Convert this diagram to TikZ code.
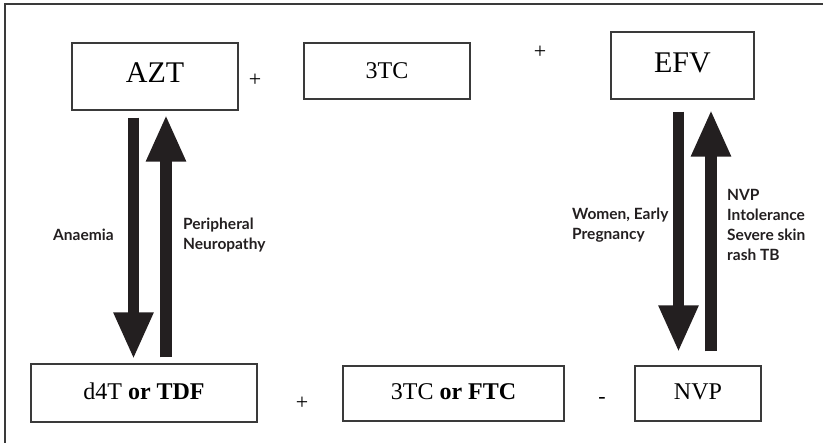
\documentclass[tikz,border=0pt]{standalone}
\usepackage{fontspec}
\setmainfont{Liberation Serif}
\setsansfont{Lato}
\usetikzlibrary{arrows.meta}
\definecolor{ink}{HTML}{231F20}
\definecolor{frameline}{HTML}{3A3A3A}
\tikzset{
  drug/.style={draw=frameline, line width=1.4pt, inner sep=0pt, anchor=center},
  bigdrug/.style={drug, font=\fontsize{30}{32}\selectfont},
  smalldrug/.style={drug, font=\fontsize{24}{26}\selectfont},
  sign/.style={font=\fontsize{22}{24}\selectfont, inner sep=0pt},
  reason/.style={font=\sffamily\bfseries\fontsize{15.5}{20}\selectfont, align=left, anchor=west, inner sep=0pt, text=ink},
  switcharrow/.style={draw=ink, line width=11.5pt, -{Triangle[width=37pt,length=47pt]}, ink},
}
\begin{document}
\begin{tikzpicture}[x=1pt, y=-1pt]
  \useasboundingbox (0,0) rectangle (823,443);
  % outer frame (top and left edges)
  \draw[frameline, line width=1.5pt] (5,443) -- (5,4) -- (823,4);

  % first-line regimen
  \node[bigdrug, minimum width=166pt, minimum height=67pt] (azt) at (155,76.5) {\raisebox{7pt}{AZT}};
  \node[sign] (p1) at (255,80) {+};
  \node[smalldrug, minimum width=166pt, minimum height=56pt] (tc3) at (387,71) {3TC};
  \node[sign] (p2) at (540,52) {+};
  \node[bigdrug, minimum width=143pt, minimum height=67pt] (efv) at (682.5,65.5) {\raisebox{6pt}{EFV}};

  % substitutions
  \node[smalldrug, minimum width=226pt, minimum height=58pt] (d4t) at (144,393) {\raisebox{3pt}{d4T \textbf{or TDF}}};
  \node[sign] (p3) at (302,403) {+};
  \node[smalldrug, minimum width=221pt, minimum height=55pt] (ftc) at (453.5,393.5) {\raisebox{3pt}{3TC \textbf{or FTC}}};
  \node[sign] (m1) at (602,400) {-};
  \node[smalldrug, minimum width=126pt, minimum height=55pt] (nvp) at (698,393.5) {\raisebox{3pt}{NVP}};

  % switching arrows
  \draw[switcharrow] ([xshift=-21.5pt,yshift=-7pt]azt.south) -- ([xshift=-10.5pt,yshift=4pt]d4t.north);
  \draw[switcharrow] ([xshift=22pt,yshift=6pt]d4t.north) -- ([xshift=11pt,yshift=-4pt]azt.south);
  \draw[switcharrow] ([xshift=-4pt,yshift=-12pt]efv.south) -- ([xshift=-19.5pt,yshift=13pt]nvp.north);
  \draw[switcharrow] ([xshift=13pt,yshift=14pt]nvp.north) -- ([xshift=28.5pt,yshift=-10pt]efv.south);

  % reasons for switching
  \node[reason] (anaemia) at (53,235) {Anaemia};
  \node[reason] (neuro) at (183,235) {Peripheral\\Neuropathy};
  \node[reason] (preg) at (572,225) {Women, Early\\Pregnancy};
  \node[reason] (intol) at (727,225) {NVP\\Intolerance\\Severe skin\\rash TB};
\end{tikzpicture}
\end{document}
